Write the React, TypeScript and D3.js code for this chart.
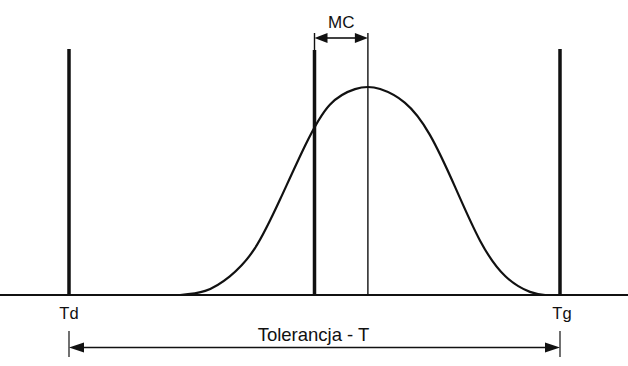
import React from "react"
import * as d3 from "d3"

// granice tolerancji i srodek rozkladu (jednostki umowne)
const limitNames = ["Td", "Tg"]
const limitValues = [0, 8]
const midValue = 4
const meanValue = 4.87

// krzywa rozkladu
const curveX = [1.81, 2.22, 2.62, 3.03, 3.44, 3.85, 4.25, 4.66, 4.87, 5.07, 5.47, 5.88, 6.29, 6.7, 7.11, 7.51, 7.76]
const curveY = [0, 0.02, 0.09, 0.225, 0.46, 0.72, 0.915, 0.99, 1, 0.99, 0.925, 0.77, 0.52, 0.26, 0.09, 0.015, 0]

const W = 628
const H = 366
const FONT = "'Liberation Sans', Arial, sans-serif"
const INK = "#111"

function Arrow({x1, x2, y, len, half}: {x1: number, x2: number, y: number, len: number, half: number}) {
    // strzalka z grotami na obu koncach skierowanymi na zewnatrz
    return (
        <g>
            <line x1={x1 + len - 2} x2={x2 - len + 2} y1={y} y2={y} stroke={INK} strokeWidth={1.6}/>
            <path d={`M${x1},${y} L${x1 + len},${y - half} L${x1 + len},${y + half} Z`} fill={INK}/>
            <path d={`M${x2},${y} L${x2 - len},${y - half} L${x2 - len},${y + half} Z`} fill={INK}/>
        </g>
    )
}

export default function App() {
    const x = d3.scaleLinear().domain(limitValues).range([69, 560])
    const y = d3.scaleLinear().domain([0, 1]).range([295, 87])

    const pts: [number, number][] = curveX.map((v, i) => [v, curveY[i]])
    const line = d3.line<[number, number]>()
        .x(d => x(d[0]))
        .y(d => y(d[1]))
        .curve(d3.curveNatural)

    const xMid = x(midValue)
    const xMean = x(meanValue)
    const base = y(0)

    return (
        <svg width={W} height={H} style={{position: "absolute", left: 0, top: 0, background: "#fff"}}>
            {/* krzywa */}
            <path d={line(pts) || ""} fill="none" stroke={INK} strokeWidth={2.2}/>

            {/* os pozioma */}
            <line x1={0} x2={W} y1={base} y2={base} stroke={INK} strokeWidth={2}/>

            {/* granice Td, Tg */}
            {limitValues.map((v, i) => (
                <g key={limitNames[i]}>
                    <line x1={x(v)} x2={x(v)} y1={49} y2={base} stroke={INK} strokeWidth={3.5}/>
                    <text x={x(v) + (i ? 2 : 0)} y={319} textAnchor="middle" fontFamily={FONT} fontSize={16.5} fill={INK}>{limitNames[i]}</text>
                    <line x1={x(v)} x2={x(v)} y1={331} y2={357} stroke={INK} strokeWidth={1.2}/>
                </g>
            ))}

            {/* srodek tolerancji */}
            <line x1={xMid} x2={xMid} y1={50} y2={base} stroke={INK} strokeWidth={3.5}/>
            <line x1={xMid} x2={xMid} y1={33} y2={52} stroke={INK} strokeWidth={1.4}/>
            {/* wartosc srednia */}
            <line x1={xMean} x2={xMean} y1={33} y2={base} stroke={INK} strokeWidth={1.4}/>

            {/* MC */}
            <Arrow x1={xMid} x2={xMean} y={38} len={13} half={5}/>
            <text x={(xMid + xMean) / 2} y={28} textAnchor="middle" fontFamily={FONT} fontSize={17} fill={INK}>MC</text>

            {/* Tolerancja */}
            <Arrow x1={x(limitValues[0])} x2={x(limitValues[1])} y={347.5} len={15} half={5}/>
            <text x={xMid - 1} y={340.5} textAnchor="middle" fontFamily={FONT} fontSize={18.5} fill={INK}>Tolerancja - T</text>
        </svg>
    )
}
